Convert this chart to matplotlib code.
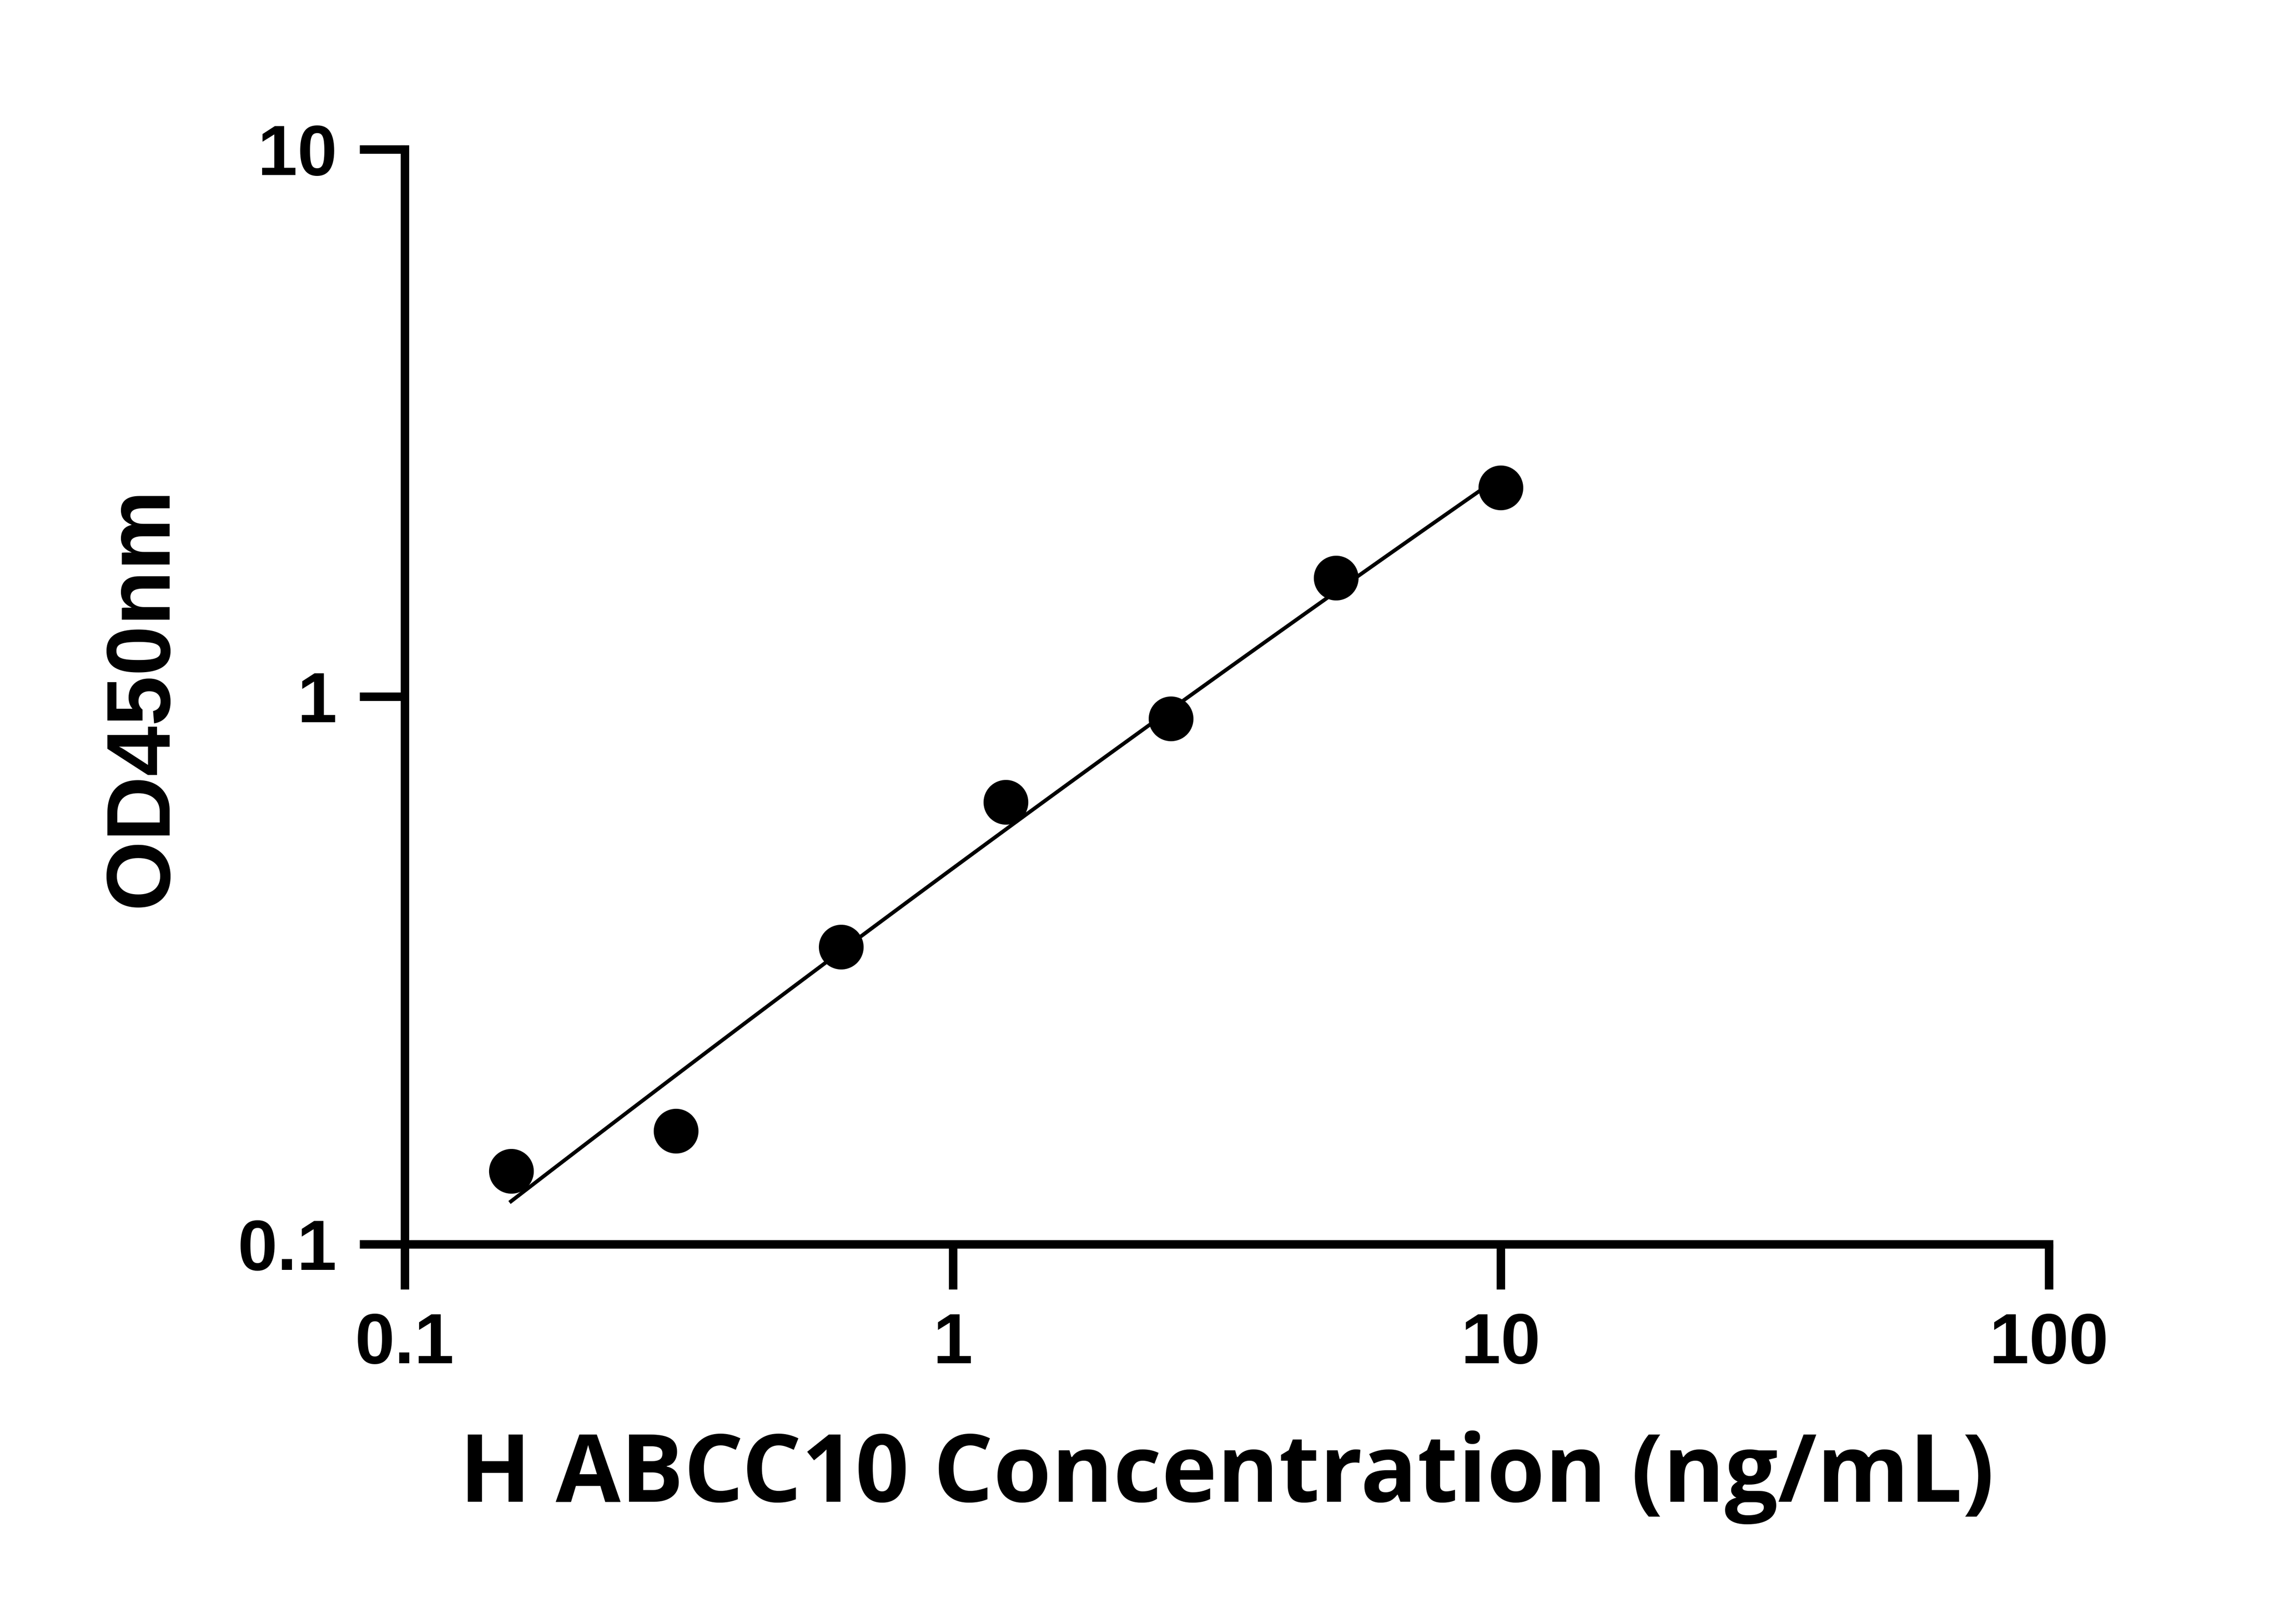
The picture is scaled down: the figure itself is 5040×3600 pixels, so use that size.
import numpy as np
import matplotlib
matplotlib.use('Agg')
import matplotlib.pyplot as plt
from matplotlib.ticker import FixedLocator, NullLocator

# - Standard curve data
conc = [0.15625, 0.3125, 0.625, 1.25, 2.5, 5.0, 10.0]
od = [0.136, 0.161, 0.349, 0.642, 0.912, 1.65, 2.41]

x_ticks = [0.1, 1, 10, 100]
x_labels = ['0.1', '1', '10', '100']
y_ticks = [0.1, 1, 10]
y_labels = ['0.1', '1', '10']

# - Fit curve in log-log space
coef = np.polyfit(np.log10(conc), np.log10(od), 2)
xf = np.logspace(np.log10(conc[0]), np.log10(conc[-1]), 200)
yf = 10 ** np.polyval(coef, np.log10(xf))

fig = plt.figure(figsize=(16.8, 12), dpi=300)
ax = fig.add_axes([0.178, 0.234, 0.723, 0.674])

ax.plot(xf, yf, color='black', lw=2)
ax.scatter(conc, od, s=520, color='black', zorder=3)

ax.set_xscale('log')
ax.set_yscale('log')
ax.set_xlim(0.1, 100)
ax.set_ylim(0.1, 10)

tickfont = {'family': 'Liberation Sans', 'weight': 'bold', 'size': 38}
ax.xaxis.set_major_locator(FixedLocator(x_ticks))
ax.yaxis.set_major_locator(FixedLocator(y_ticks))
ax.xaxis.set_minor_locator(NullLocator())
ax.yaxis.set_minor_locator(NullLocator())
ax.set_xticklabels(x_labels, fontdict=tickfont)
ax.set_yticklabels(y_labels, fontdict=tickfont)

for s in ['top', 'right']:
    ax.spines[s].set_visible(False)
for s in ['left', 'bottom']:
    ax.spines[s].set_linewidth(4.5)
ax.tick_params(width=4.5, length=24, pad=12)

ax.set_xlabel('H ABCC10 Concentration (ng/mL)', fontsize=50, fontweight='bold',
              family='Open Sans', labelpad=28)
ax.set_ylabel('OD450nm', fontsize=48, fontweight='bold',
              family='Liberation Sans', labelpad=28)

plt.savefig('out.png', dpi=300)
